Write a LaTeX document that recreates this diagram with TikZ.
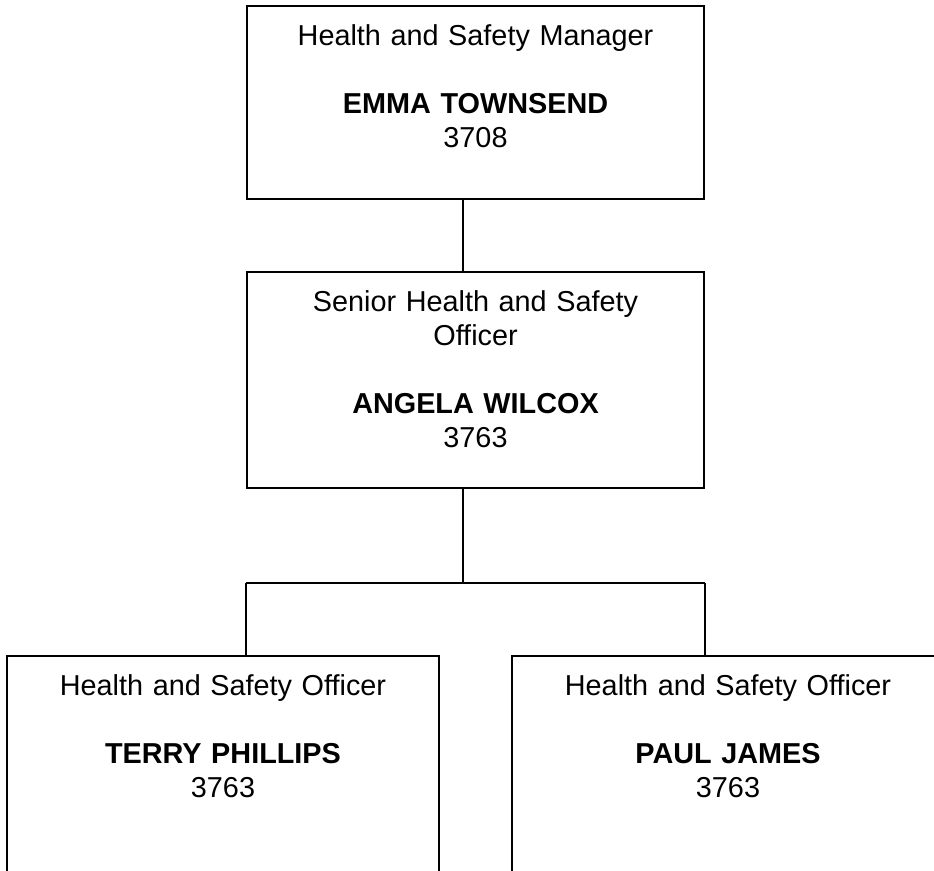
\documentclass[tikz,border=0pt]{standalone}
\usepackage{fontspec}
\setmainfont{Liberation Sans}

\begin{document}
\begin{tikzpicture}[x=0.02cm, y=-0.02cm,
    postbox/.style={draw, line width=1pt, rectangle, anchor=north, align=center,
        inner xsep=0pt, inner ysep=0pt, text height=0.8cm,
        font=\fontsize{16.4pt}{19.3pt}\selectfont},
    widebox/.style={text width=9.14cm},
    narrowbox/.style={text width=8.64cm},
    link/.style={line width=1pt}]

    \useasboundingbox (0,0) rectangle (934,870);

    % manager and senior officer
    \node[postbox, widebox, text depth=3.06cm](manager) at (475.5,5)
        {Health and Safety Manager\\[0.68cm]\textbf{EMMA TOWNSEND}\\3708};
    \node[postbox, widebox, text depth=3.52cm](senior) at (475.5,271)
        {Senior Health and Safety\\Officer\\[0.68cm]\textbf{ANGELA WILCOX}\\3763};

    % the two officers
    \node[postbox, narrowbox, text depth=4.2cm](officerA) at (223,655)
        {Health and Safety Officer\\[0.68cm]\textbf{TERRY PHILLIPS}\\3763};
    \node[postbox, narrowbox, text depth=4.2cm](officerB) at (728,655)
        {Health and Safety Officer\\[0.68cm]\textbf{PAUL JAMES}\\3763};

    \coordinate (spine) at (463,0);
    \coordinate (fork) at (463,583);

        \draw[link] (spine |- manager.south) -- (spine |- senior.north);
        \draw[link] (spine |- senior.south) -- (fork);
        \draw[link] (senior.west |- fork) -- (senior.east |- fork);
        \draw[link] (senior.west |- fork) -- (senior.west |- officerA.north);
        \draw[link] (senior.east |- fork) -- (senior.east |- officerB.north);

\end{tikzpicture}
\end{document}
